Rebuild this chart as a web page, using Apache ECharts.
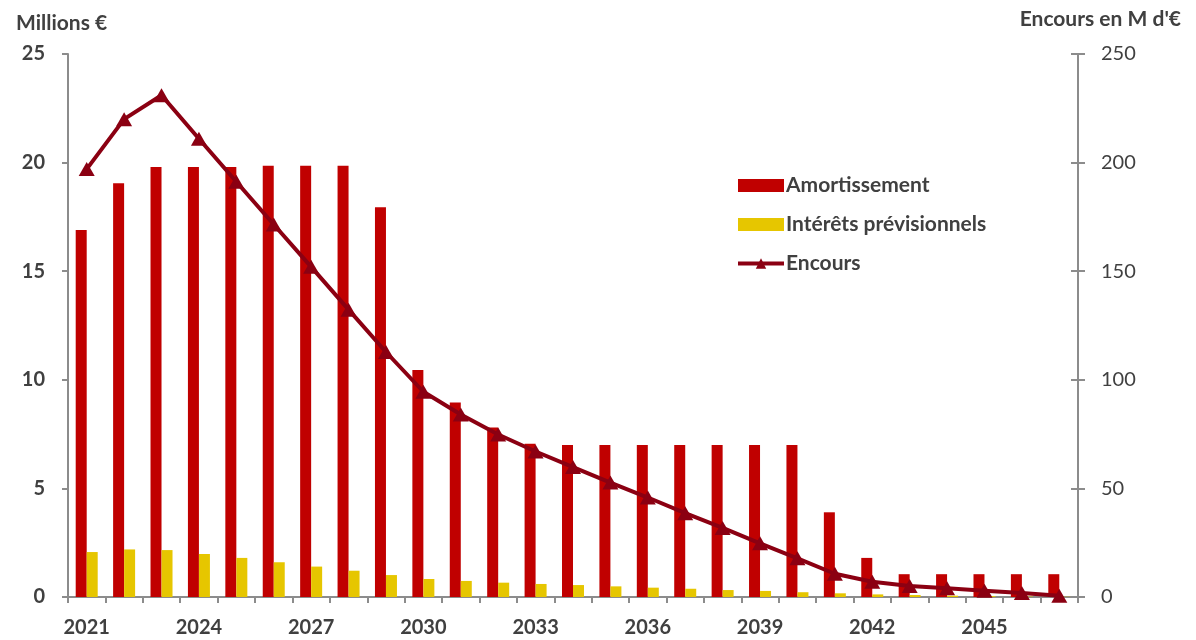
<!DOCTYPE html>
<html>
<head>
<meta charset="utf-8">
<script src="https://cdn.jsdelivr.net/npm/echarts@6/dist/echarts.min.js"></script>
<style>
  html, body { margin: 0; padding: 0; background: #fff; }
  #chart { width: 1196px; height: 640px; }
</style>
</head>
<body>
<div id="chart"></div>
<script>
// Years of the repayment schedule
const years = ['2021','2022','2023','2024','2025','2026','2027','2028','2029','2030',
  '2031','2032','2033','2034','2035','2036','2037','2038','2039','2040',
  '2041','2042','2043','2044','2045','2046','2047'];

// Capital repaid each year (millions €)
const amortissement = [16.9, 19.05, 19.8, 19.8, 19.8, 19.85, 19.85, 19.85, 17.95, 10.45,
  8.95, 7.8, 7.05, 7.0, 7.0, 7.0, 7.0, 7.0, 7.0, 7.0,
  3.9, 1.8, 1.05, 1.05, 1.05, 1.05, 1.05];

// Forecast interest (millions €)
const interets = [2.07, 2.19, 2.16, 1.98, 1.80, 1.60, 1.40, 1.21, 1.01, 0.83,
  0.74, 0.66, 0.60, 0.55, 0.49, 0.43, 0.38, 0.32, 0.28, 0.22,
  0.17, 0.12, 0.09, 0.06, 0.04, 0.02, 0.01];

// Outstanding debt (M d'€, right axis)
const encours = [197, 220, 231, 211, 191.2, 171.5, 152, 132.3, 112.8, 94.5,
  84, 74.8, 67, 59.8, 52.7, 45.8, 38.6, 31.8, 24.7, 17.8,
  10.7, 7.0, 5.1, 4.0, 2.9, 1.8, 0.6];

const FONT = 'Lato, "Open Sans", sans-serif';
const TXT = '#404040';
const AXIS = '#8c8c8c';
const LINE = '#8B0012';

const chart = echarts.init(document.getElementById('chart'), null, { renderer: 'canvas' });

chart.setOption({
  animation: false,
  backgroundColor: '#ffffff',
  textStyle: { fontFamily: FONT },
  title: [
    { text: 'Millions €', left: 11, top: 8,
      textStyle: { fontFamily: FONT, fontSize: 21, fontWeight: 'bold', color: TXT } },
    { text: "Encours en M d'€", right: 10, top: 4,
      textStyle: { fontFamily: FONT, fontSize: 21, fontWeight: 'bold', color: TXT } }
  ],
  legend: {
    orient: 'vertical',
    left: 731,
    top: 170,
    itemWidth: 46,
    itemHeight: 13,
    itemGap: 18,
    textStyle: { fontFamily: FONT, fontSize: 21, fontWeight: 'bold', color: TXT, padding: [0, 0, 0, -3] },
    data: [
      { name: 'Amortissement', icon: 'rect' },
      { name: 'Intérêts prévisionnels', icon: 'rect' },
      { name: 'Encours', lineStyle: { width: 4, color: LINE }, itemStyle: { color: LINE } }
    ]
  },
  grid: { left: 68, right: 118, top: 54, bottom: 43, containLabel: false },
  xAxis: {
    type: 'category',
    data: years,
    boundaryGap: true,
    axisLine: { lineStyle: { color: AXIS, width: 2 } },
    axisTick: { show: true, length: 6, alignWithLabel: false, interval: 0, lineStyle: { color: AXIS, width: 2 } },
    axisLabel: { interval: 2, margin: 21, fontFamily: FONT, fontSize: 20, fontWeight: 'bold', color: TXT },
    splitLine: { show: false }
  },
  yAxis: [
    {
      type: 'value', min: 0, max: 25, interval: 5, position: 'left',
      axisLine: { show: true, lineStyle: { color: AXIS, width: 2 } },
      axisTick: { show: true, length: 6, lineStyle: { color: AXIS, width: 2 } },
      axisLabel: { margin: 23, fontFamily: FONT, fontSize: 20, fontWeight: 'bold', color: TXT },
      splitLine: { show: false }
    },
    {
      type: 'value', min: 0, max: 250, interval: 50, position: 'right',
      axisLine: { show: true, lineStyle: { color: AXIS, width: 2 } },
      axisTick: { show: true, length: 7, lineStyle: { color: AXIS, width: 2 } },
      axisLabel: { margin: 23, fontFamily: FONT, fontSize: 20, color: TXT },
      splitLine: { show: false }
    },
    {
      // inner half of the right-hand tick marks
      type: 'value', min: 0, max: 250, interval: 50, position: 'right',
      axisLine: { show: false },
      axisTick: { show: true, inside: true, length: 7, lineStyle: { color: AXIS, width: 2 } },
      axisLabel: { show: false },
      splitLine: { show: false }
    }
  ],
  series: [
    {
      name: 'Amortissement',
      type: 'bar',
      data: amortissement,
      barWidth: 11,
      barGap: '0%',
      itemStyle: { color: '#C00000' },
      z: 2
    },
    {
      name: 'Intérêts prévisionnels',
      type: 'bar',
      data: interets,
      barWidth: 11,
      barGap: '0%',
      itemStyle: { color: '#E6C600' },
      z: 2
    },
    {
      name: 'Encours',
      type: 'line',
      yAxisIndex: 1,
      data: encours,
      symbol: 'triangle',
      symbolSize: [16, 14],
      showAllSymbol: true,
      lineStyle: { color: LINE, width: 4 },
      itemStyle: { color: LINE, borderWidth: 0 },
      z: 5
    }
  ]
});
</script>
</body>
</html>
